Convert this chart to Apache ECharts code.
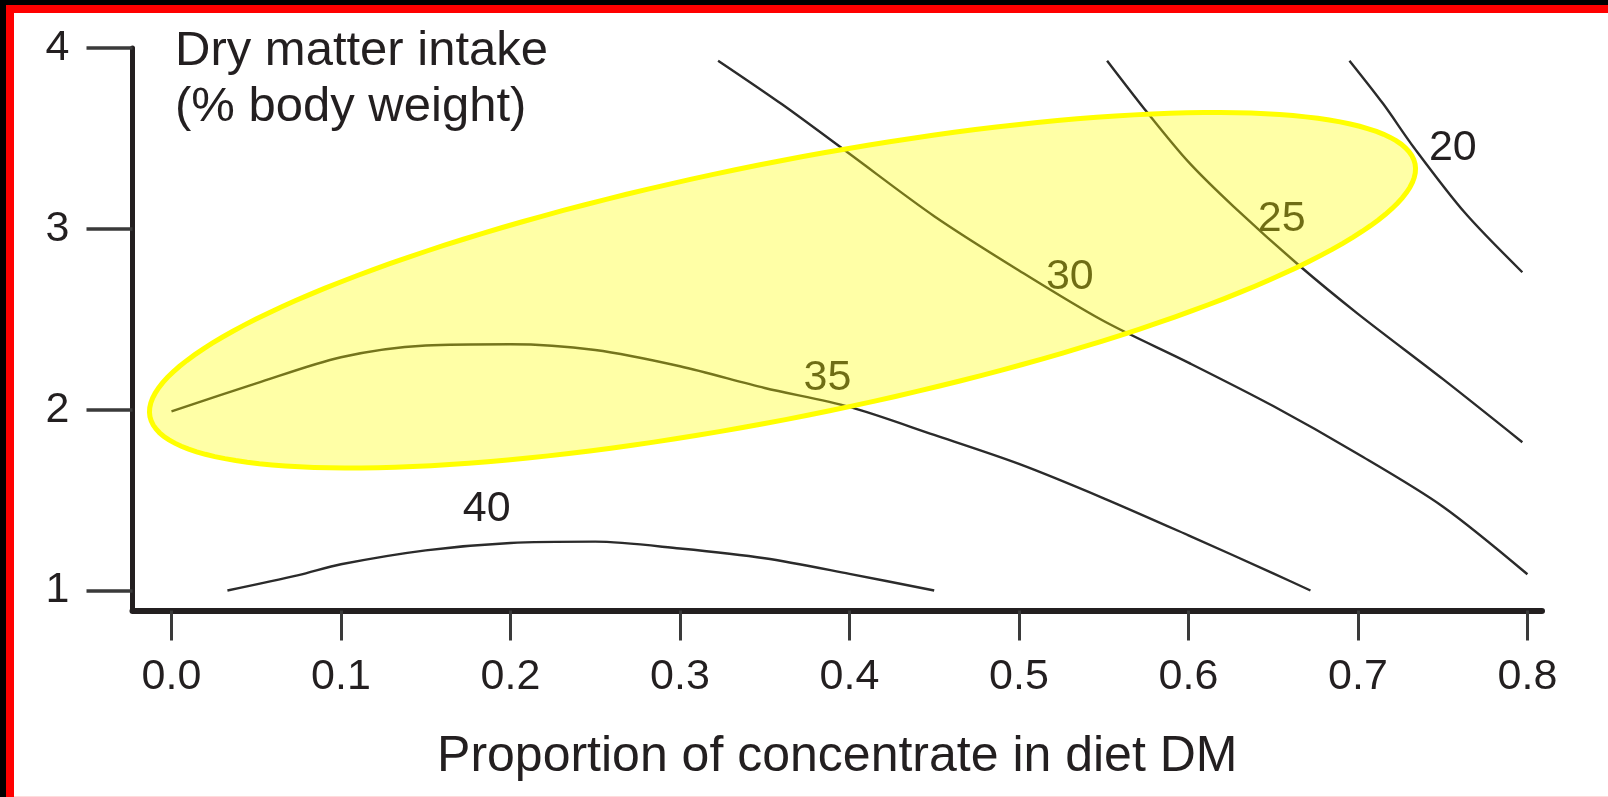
<!DOCTYPE html>
<html>
<head>
<meta charset="utf-8">
<script src="https://cdn.jsdelivr.net/npm/echarts@6/dist/echarts.min.js"></script>
<style>
	html,body{margin:0;padding:0;background:#fff;overflow:hidden;}
	#main{position:absolute;left:0;top:0;width:1608px;height:797px;}
	.bar{position:absolute;pointer-events:none;}
</style>
</head>
<body>
<div id="main"></div>
<!-- black and red rule along the top and left edge -->
<div class="bar" style="left:0;top:0;width:1608px;height:5px;background:#000;"></div>
<div class="bar" style="left:0;top:0;width:6px;height:797px;background:#000;"></div>
<div class="bar" style="left:6px;top:5px;width:1602px;height:8px;background:#f00;"></div>
<div class="bar" style="left:6px;top:5px;width:8px;height:792px;background:#f00;"></div>
<div class="bar" style="left:14px;top:796px;width:1594px;height:1px;background:#ffdcdc;"></div>
<script>
var FONT = '"Liberation Sans", Arial, sans-serif';
var TXT = '#231f20';

// tick labels
var xTicks = [0, 0.1, 0.2, 0.3, 0.4, 0.5, 0.6, 0.7, 0.8];
var yTicks = [1, 2, 3, 4];

// contour lines [proportion, intake]
var line40 = [[0.033,1.0],[0.075,1.085],[0.1,1.145],[0.15,1.222],[0.2,1.263],[0.25,1.27],[0.3,1.232],[0.35,1.178],[0.4,1.092],[0.45,1.0]];
var line35 = [[0.0,1.99],[0.05,2.145],[0.1,2.29],[0.15,2.355],[0.2,2.362],[0.25,2.33],[0.3,2.24],[0.35,2.12],[0.4,2.015],[0.45,1.86],[0.5,1.7],[0.55,1.51],[0.6,1.305],[0.65,1.095],[0.672,1.0]];
var line30 = [[0.3225,3.93],[0.36,3.69],[0.4,3.415],[0.45,3.07],[0.5,2.77],[0.55,2.49],[0.6,2.26],[0.65,2.02],[0.7,1.755],[0.75,1.465],[0.8,1.09]];
var line25 = [[0.552,3.93],[0.576,3.64],[0.6,3.37],[0.627,3.12],[0.665,2.8],[0.7,2.53],[0.75,2.17],[0.797,1.82]];
var line20 = [[0.695,3.93],[0.715,3.69],[0.733,3.45],[0.763,3.09],[0.797,2.76]];

// contour labels
var labelText = ['40', '35', '30', '25', '20'];
var labelX = [0.186, 0.387, 0.53, 0.655, 0.756];
var labelY = [1.45, 2.175, 2.735, 3.055, 3.445];

// highlighted region: centre and two conjugate half axes, in data units
var ellipseCenter = [0.3605, 2.6602];
var ellipseU = [0.3732, 0.6989];
var ellipseV = [0.01475, -0.6912];

var myChart = echarts.init(document.getElementById('main'));

function contour(data) {
	return {
		type: 'line',
		data: data,
		smooth: 0.3,
		showSymbol: false,
		silent: true,
		lineStyle: {color: '#2b2b2b', width: 2.4}
	};
}

var labelData = [];
for (var i = 0; i < labelText.length; i++) {
	labelData.push([labelX[i], labelY[i]]);
}

var option = {
	animation: false,
	title: {
		text: 'Dry matter intake\n(% body weight)',
		left: 170,
		top: 18,
		textStyle: {fontFamily: FONT, fontSize: 49, lineHeight: 56, fontWeight: 'normal', color: TXT}
	},
	grid: {left: 132.5, right: 66, top: 48, bottom: 186.5, containLabel: false},
	xAxis: {
		type: 'value',
		min: -0.023,
		max: 0.8086,
		name: 'Proportion of concentrate in diet DM',
		nameLocation: 'middle',
		nameGap: 122,
		nameTextStyle: {fontFamily: FONT, fontSize: 50, color: TXT},
		splitLine: {show: false},
		axisLine: {onZero: false, lineStyle: {color: TXT, width: 6}},
		axisTick: {customValues: xTicks, length: 30, lineStyle: {color: '#3a3a3a', width: 3}},
		axisLabel: {
			customValues: xTicks,
			margin: 45,
			fontFamily: FONT,
			fontSize: 43,
			color: TXT,
			formatter: function (v) { return v.toFixed(1); }
		}
	},
	yAxis: {
		type: 'value',
		min: 0.8894,
		max: 4,
		splitLine: {show: false},
		axisLine: {show: true, onZero: false, lineStyle: {color: TXT, width: 5}},
		axisTick: {show: true, customValues: yTicks, length: 46, lineStyle: {color: '#3a3a3a', width: 3.5}},
		axisLabel: {
			customValues: yTicks,
			margin: 63,
			fontFamily: FONT,
			fontSize: 43,
			color: TXT
		}
	},
	series: [
		contour(line40),
		contour(line35),
		contour(line30),
		contour(line25),
		contour(line20),
		{
			type: 'custom',
			data: labelData,
			silent: true,
			renderItem: function (params, api) {
				var p = api.coord([api.value(0), api.value(1)]);
				return {
					type: 'text',
					x: p[0],
					y: p[1],
					style: {
						text: labelText[params.dataIndex],
						fill: TXT,
						font: '43px ' + FONT,
						align: 'center',
						verticalAlign: 'middle'
					}
				};
			}
		},
		{
			type: 'custom',
			data: [[ellipseCenter[0], ellipseCenter[1]]],
			silent: true,
			z: 10,
			renderItem: function (params, api) {
				var pts = [];
				for (var k = 0; k <= 180; k++) {
					var t = k / 180 * Math.PI * 2;
					pts.push(api.coord([
						ellipseCenter[0] + Math.cos(t) * ellipseU[0] + Math.sin(t) * ellipseV[0],
						ellipseCenter[1] + Math.cos(t) * ellipseU[1] + Math.sin(t) * ellipseV[1]
					]));
				}
				return {
					type: 'polygon',
					shape: {points: pts},
					style: {fill: 'rgba(255,255,0,0.35)', stroke: '#ffff00', lineWidth: 5}
				};
			}
		}
	]
};

myChart.setOption(option);
</script>
</body>
</html>
